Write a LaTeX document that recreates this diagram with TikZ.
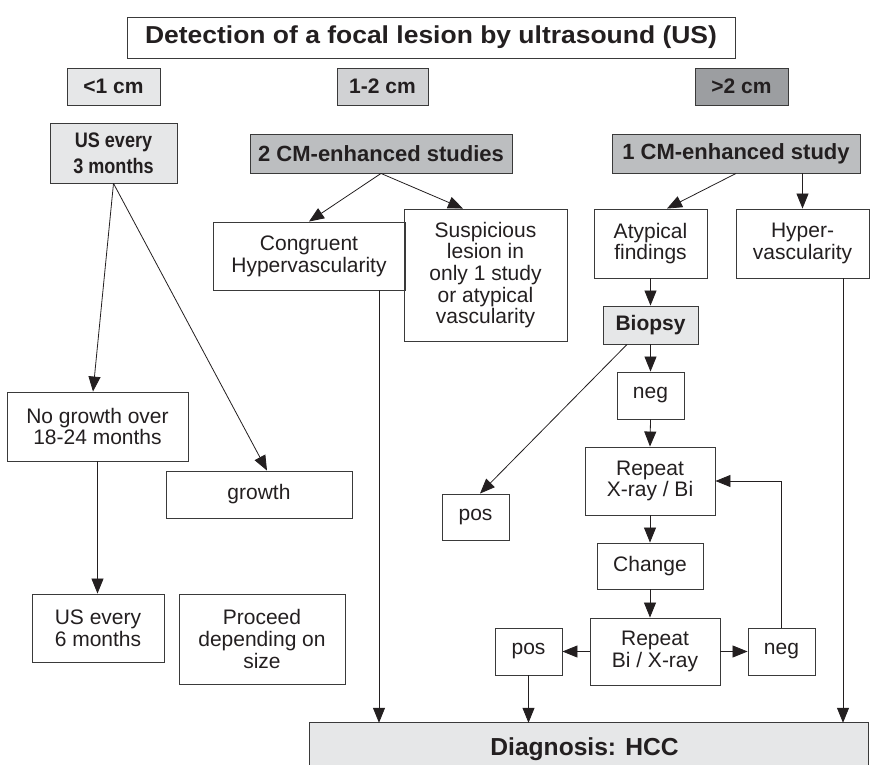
\documentclass[tikz,border=0pt]{standalone}
\usepackage{fontspec}
\setmainfont{Liberation Sans}
\usetikzlibrary{arrows.meta}
\definecolor{txt}{HTML}{231F20}
\definecolor{edge}{HTML}{3A3A3A}
\definecolor{fillA}{HTML}{E6E7E8}
\definecolor{fillB}{HTML}{D1D2D4}
\definecolor{fillC}{HTML}{BCBEC0}
\definecolor{fillD}{HTML}{9C9EA1}
\begin{document}
\begin{tikzpicture}[x=1pt,y=-1pt,
  box/.style={draw=edge, line width=0.9pt, inner sep=0pt, align=center, text=txt,
    font=\fontsize{21}{21.7}\selectfont},
  sizebox/.style={box, font=\bfseries\fontsize{21}{23}\selectfont, minimum width=93pt, minimum height=37pt},
  cmbox/.style={box, fill=fillC, font=\bfseries\fontsize{22}{24}\selectfont, minimum height=39pt},
  arr/.style={draw=txt, line width=0.8pt, -{Triangle[length=15pt,width=12pt]}},
  ln/.style={draw=txt, line width=0.8pt}]
\useasboundingbox (0,0) rectangle (872,765);

% title
\node[box, minimum width=608pt, minimum height=41pt, font=\bfseries\fontsize{24.5}{26}\selectfont]
  (title) at (431,37.5) {\scalebox{1.08}[1]{Detection of a focal lesion by ultrasound (US)}};

% size classes
\node[sizebox, fill=fillA] (lt1) at (113.5,86.5) {<1 cm};
\node[sizebox, fill=fillB, minimum width=91pt] (b12) at (382.5,86.5) {1-2 cm};
\node[sizebox, fill=fillD] (gt2) at (741.5,86.5) {>2 cm};

% second row
\node[box, fill=fillA, minimum width=127pt, minimum height=60pt, font=\bfseries\fontsize{21}{26}\selectfont]
  (us3) at (113.5,153) {\scalebox{0.86}[1]{US every}\\\scalebox{0.86}[1]{3 months}};
\node[cmbox, minimum width=262pt] (cm2) at (381,153.5) {2 CM-enhanced studies};
\node[cmbox, minimum width=248pt] (cm1) at (736,153.5) {1 CM-enhanced study};

% 1-2 cm branch
\node[box, minimum width=192pt, minimum height=68pt] (cong) at (309,256) {Congruent\\Hypervascularity};
\node[box, minimum width=163pt, minimum height=132pt] (susp) at (485.5,275)
  {Suspicious\\lesion in\\only 1 study\\or atypical\\vascularity};

% >2 cm branch
\node[box, minimum width=113pt, minimum height=69pt] (atyp) at (650.5,243.5) {Atypical\\findings};
\node[box, minimum width=133pt, minimum height=69pt] (hyper) at (802.5,243.5) {Hyper-\\vascularity};
\node[box, fill=fillA, minimum width=95pt, minimum height=38pt, font=\bfseries\fontsize{21}{23}\selectfont]
  (biopsy) at (650.5,325) {Biopsy};
\node[box, minimum width=67pt, minimum height=47pt] (neg1) at (650.5,395.5) {neg};
\node[box, minimum width=130pt, minimum height=68pt] (rep1) at (650,481) {Repeat\\X-ray / Bi};
\node[box, minimum width=67pt, minimum height=46pt] (pos1) at (475.5,517) {pos};
\node[box, minimum width=106pt, minimum height=46pt] (change) at (650,566) {Change};
\node[box, minimum width=130pt, minimum height=67pt] (rep2) at (655,651.5) {Repeat\\Bi / X-ray};
\node[box, minimum width=67pt, minimum height=47pt] (pos2) at (528.5,651.5) {pos};
\node[box, minimum width=67pt, minimum height=47pt] (neg2) at (781.5,651.5) {neg};

% <1 cm branch
\node[box, minimum width=181pt, minimum height=69pt] (nog) at (97.5,426.5) {No growth over\\18-24 months};
\node[box, minimum width=186pt, minimum height=47pt] (growth) at (259,494.5) {growth};
\node[box, minimum width=132pt, minimum height=68pt] (us6) at (98,628) {US every\\6 months};
\node[box, minimum width=166pt, minimum height=90pt] (proc) at (262,639) {Proceed\\depending on\\size};

% diagnosis (cut by the lower edge)
\node[fill=fillA, inner sep=0pt, minimum width=558pt, minimum height=42pt, text=txt,
  text height=22pt, text depth=0pt, font=\bfseries\fontsize{24.6}{26}\selectfont]
  (diag) at (589,744) {\hspace*{-9pt}Diagnosis: HCC};
\draw[edge, line width=0.9pt] (diag.south west) -- (diag.north west) -- (diag.north east) -- (diag.south east);

% connectors <1 cm
\draw[arr] (us3.south) -- ([xshift=-4.5pt]nog.north);
\draw[arr] (us3.south) -- ([xshift=8pt]growth.north);
\draw[arr] (nog.south) -- (nog.south |- us6.north);

% connectors 1-2 cm
\draw[arr] (cm2.south) -- (cong.north);
\draw[arr] (cm2.south) -- ([xshift=-22.5pt]susp.north);
\coordinate (congout) at ([xshift=70pt]cong.south);
\draw[arr] (congout) -- (congout |- diag.north);

% connectors >2 cm
\draw[arr] (cm1.south) -- ([xshift=16.5pt]atyp.north);
\draw[arr] (cm1.south -| hyper.north) -- (hyper.north);
\coordinate (hypout) at ([xshift=40.5pt]hyper.south);
\draw[arr] (hypout) -- (hypout |- diag.north);
\draw[arr] (atyp.south) -- (biopsy.north);
\draw[arr] (biopsy.south) -- (neg1.north);
\draw[arr] ([xshift=-23.5pt]biopsy.south) -- ([xshift=4.5pt]pos1.north);
\draw[arr] (neg1.south) -- (rep1.north);
\draw[arr] (rep1.south) -- (change.north);
\draw[arr] (change.south) -- (change.south |- rep2.north);
\draw[arr] (rep2.west) -- (pos2.east);
\draw[arr] (rep2.east) -- (neg2.west);
\draw[arr] (neg2.north) |- (rep1.east);
\draw[arr] (pos2.south) -- (pos2.south |- diag.north);
\end{tikzpicture}
\end{document}
